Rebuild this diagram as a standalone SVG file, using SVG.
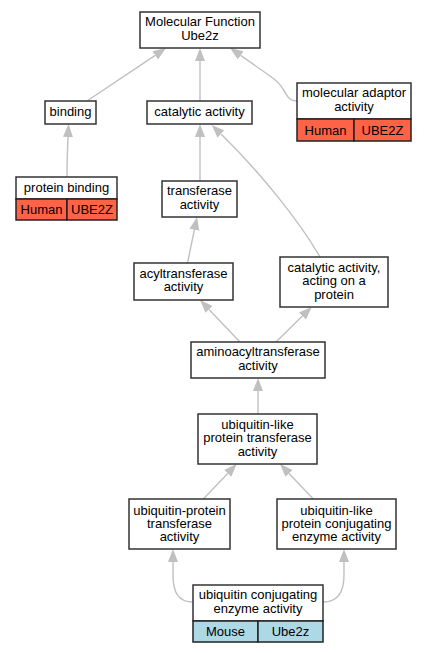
<svg xmlns="http://www.w3.org/2000/svg" width="425" height="653" viewBox="0 0 425 653">
<style>
text{font-family:"Liberation Sans",Arial,sans-serif;font-size:13px;text-anchor:middle;fill:#000}
.b{fill:#fff;stroke:#333;stroke-width:1.5}
.h{fill:#ff6347;stroke:#222;stroke-width:1.5}
.m{fill:#add8e6;stroke:#222;stroke-width:1.5}
.e{fill:none;stroke:#c0c0c0;stroke-width:1.4}
</style>
<defs>
<marker id="a" markerUnits="userSpaceOnUse" viewBox="0 -6 14 12" refX="0" refY="0" markerWidth="14" markerHeight="12" orient="auto">
<path d="M0,-5 L13,0 L0,5 z" fill="#c0c0c0"/>
</marker>
</defs>
<rect width="425" height="653" fill="#fff"/>
<g id="edges">
<path class="e" marker-end="url(#a)" d="M87,101 L155.2,55.3"/>
<path class="e" marker-end="url(#a)" d="M200,101 L200,61"/>
<path class="e" marker-end="url(#a)" d="M297,101 C288,101 287,95 283,89 C280,84 276,80 270,76 L240.7,55.4"/>
<path class="e" marker-end="url(#a)" d="M67,177 C67,160 67.5,150 68,137"/>
<path class="e" marker-end="url(#a)" d="M200,181 L200,137"/>
<path class="e" marker-end="url(#a)" d="M320,257 C300,222 260,172 221,134"/>
<path class="e" marker-end="url(#a)" d="M187.5,263 L194.4,229.7"/>
<path class="e" marker-end="url(#a)" d="M240,342 L209,309.4"/>
<path class="e" marker-end="url(#a)" d="M276,342 L302.4,316.1"/>
<path class="e" marker-end="url(#a)" d="M258,414 L258,391"/>
<path class="e" marker-end="url(#a)" d="M203.3,499 L227.7,473.4"/>
<path class="e" marker-end="url(#a)" d="M313.3,499 L289,473.4"/>
<path class="e" marker-end="url(#a)" d="M193,602 C178,602 173,592 173,575 L173,562"/>
<path class="e" marker-end="url(#a)" d="M323,602 C338,602 344,592 344,575 L344,562"/>
</g>
<g id="mf">
<rect class="b" x="140" y="12" width="120" height="36"/>
<text x="200" y="26.3">Molecular Function</text>
<text x="200" y="39.6">Ube2z</text>
</g>
<g id="binding">
<rect class="b" x="45" y="101" width="51" height="23"/>
<text x="70.5" y="116">binding</text>
</g>
<g id="catalytic">
<rect class="b" x="147" y="101" width="105" height="23"/>
<text x="199.5" y="116">catalytic activity</text>
</g>
<g id="adaptor">
<rect class="b" x="297" y="83" width="114" height="36"/>
<text x="354" y="97.3">molecular adaptor</text>
<text x="354" y="110.6">activity</text>
<rect class="h" x="297" y="119" width="57" height="22"/>
<rect class="h" x="354" y="119" width="57" height="22"/>
<text x="325.5" y="134.5">Human</text>
<text x="382.5" y="134.5">UBE2Z</text>
</g>
<g id="protein-binding">
<rect class="b" x="16" y="177" width="101" height="22"/>
<text x="66.5" y="192">protein binding</text>
<rect class="h" x="16" y="199" width="51" height="21"/>
<rect class="h" x="67" y="199" width="50" height="21"/>
<text x="41.5" y="214">Human</text>
<text x="92" y="214">UBE2Z</text>
</g>
<g id="transferase">
<rect class="b" x="162" y="181" width="75" height="36"/>
<text x="199.5" y="195.3">transferase</text>
<text x="199.5" y="208.6">activity</text>
</g>
<g id="acyltransferase">
<rect class="b" x="134" y="263" width="99" height="37"/>
<text x="183.5" y="277.5">acyltransferase</text>
<text x="183.5" y="290.8">activity</text>
</g>
<g id="catalytic-protein">
<rect class="b" x="280" y="257" width="108" height="50"/>
<text x="334" y="272">catalytic activity,</text>
<text x="334" y="285.3">acting on a</text>
<text x="334" y="298.6">protein</text>
</g>
<g id="aminoacyltransferase">
<rect class="b" x="191" y="342" width="134" height="36"/>
<text x="258" y="356.3">aminoacyltransferase</text>
<text x="258" y="369.6">activity</text>
</g>
<g id="ubl-transferase">
<rect class="b" x="198" y="414" width="119" height="50"/>
<text x="257.5" y="429">ubiquitin-like</text>
<text x="257.5" y="442.3">protein transferase</text>
<text x="257.5" y="455.6">activity</text>
</g>
<g id="ub-protein-transferase">
<rect class="b" x="129" y="499" width="101" height="50"/>
<text x="179.5" y="514.5">ubiquitin-protein</text>
<text x="179.5" y="527.8">transferase</text>
<text x="179.5" y="541.1">activity</text>
</g>
<g id="ubl-conjugating">
<rect class="b" x="277" y="499" width="119" height="50"/>
<text x="336.5" y="514.5">ubiquitin-like</text>
<text x="336.5" y="527.8">protein conjugating</text>
<text x="336.5" y="541.1">enzyme activity</text>
</g>
<g id="ub-conjugating">
<rect class="b" x="193" y="585" width="130" height="36"/>
<text x="258" y="599.3">ubiquitin conjugating</text>
<text x="258" y="612.6">enzyme activity</text>
<rect class="m" x="193" y="621" width="65" height="21"/>
<rect class="m" x="258" y="621" width="65" height="21"/>
<text x="225.5" y="636">Mouse</text>
<text x="290.5" y="636">Ube2z</text>
</g>
</svg>
